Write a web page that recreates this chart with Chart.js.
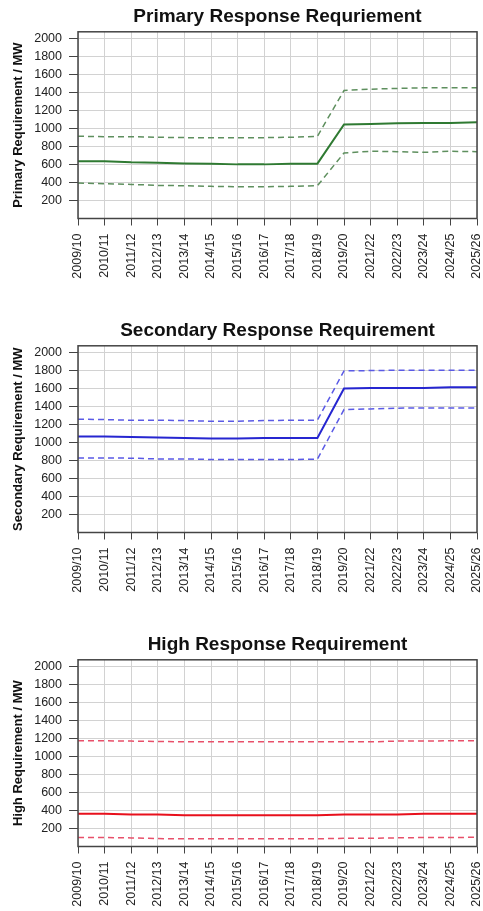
<!DOCTYPE html>
<html lang="en">
  <head>
    <meta charset="UTF-8" />
    <title>Response Requirements</title>
    <style>
      body { margin: 0; background: #fff; }
      .panel { position: absolute; left: 0; width: 483px; height: 283px; }
    </style>
  </head>

  <body>
    <div class="panel" style="top: 0px"><canvas id="primario"></canvas></div>
    <div class="panel" style="top: 314px"><canvas id="secundario"></canvas></div>
    <div class="panel" style="top: 628px"><canvas id="alto"></canvas></div>
    <script src="https://cdn.jsdelivr.net/npm/chart.js"></script>
    <script>
      const years = ["2009/10", "2010/11", "2011/12", "2012/13", "2013/14", "2014/15", "2015/16", "2016/17",
        "2017/18", "2018/19", "2019/20", "2021/22", "2022/23", "2023/24", "2024/25", "2025/26"];
      const yTicks = [200, 400, 600, 800, 1000, 1200, 1400, 1600, 1800, 2000];

      const primaryMid = [637, 637, 626, 622, 614, 611, 603, 603, 611, 611, 1047, 1054, 1061, 1065, 1065, 1073];
      const primaryUpper = [916, 912, 912, 905, 901, 901, 901, 901, 905, 916, 1426, 1441, 1449, 1456, 1456, 1456];
      const primaryLower = [395, 387, 380, 369, 365, 358, 354, 354, 358, 365, 730, 749, 745, 737, 749, 745];

      const secondaryMid = [1069, 1069, 1065, 1058, 1054, 1047, 1047, 1054, 1054, 1054, 1604, 1611, 1611, 1611, 1618, 1618];
      const secondaryUpper = [1262, 1258, 1251, 1251, 1247, 1240, 1240, 1247, 1251, 1251, 1800, 1804, 1808, 1808, 1808, 1808];
      const secondaryLower = [831, 831, 828, 820, 820, 813, 813, 813, 813, 817, 1370, 1377, 1385, 1388, 1388, 1388];

      const highMid = [364, 364, 356, 356, 349, 349, 349, 349, 349, 349, 356, 356, 356, 364, 364, 364];
      const highUpper = [1178, 1178, 1174, 1170, 1166, 1166, 1166, 1166, 1166, 1166, 1166, 1166, 1174, 1174, 1178, 1178];
      const highLower = [100, 100, 96, 88, 85, 85, 85, 85, 85, 85, 92, 92, 96, 100, 100, 103];

      const fuente = "'Liberation Sans', Arial, sans-serif";

      // marco completo alrededor del area de trazado
      const marco = {
        id: "marco",
        afterDatasetsDraw(chart) {
          const { ctx, chartArea: a } = chart;
          ctx.save();
          ctx.strokeStyle = "#444";
          ctx.lineWidth = 1.5;
          ctx.strokeRect(a.left, a.top, a.right - a.left, a.bottom - a.top);
          ctx.restore();
        },
      };

      function grafico(id, titulo, tituloY, medio, arriba, abajo, solido, guiones) {
        const linea = (datos, color, ancho, dash) => ({
          data: datos,
          borderColor: color,
          borderWidth: ancho,
          borderDash: dash,
          pointRadius: 0,
          tension: 0,
          fill: false,
        });
        return new Chart(document.getElementById(id), {
          type: "line",
          data: {
            labels: years,
            datasets: [
              linea(arriba, guiones, 1.5, [6, 4]),
              linea(abajo, guiones, 1.5, [6, 4]),
              linea(medio, solido, 2, []),
            ],
          },
          plugins: [marco],
          options: {
            responsive: true,
            maintainAspectRatio: false,
            animation: false,
            layout: { padding: { left: 11, right: 6, top: 0, bottom: 0 } },
            plugins: {
              legend: { display: false },
              tooltip: { enabled: false },
              title: {
                display: true,
                text: titulo,
                fullSize: false,
                color: "#111",
                font: { family: fuente, size: 19, weight: "bold", lineHeight: 1.2 },
                padding: { top: 5, bottom: 4 },
              },
            },
            scales: {
              x: {
                grid: { color: "#d2d2d2", tickColor: "#444", tickLength: 7, lineWidth: 1 },
                border: { display: false },
                ticks: {
                  autoSkip: false,
                  minRotation: 90,
                  maxRotation: 90,
                  padding: 8,
                  color: "#222",
                  font: { family: fuente, size: 12.5 },
                },
                afterFit(scale) {
                  scale.height = 64.5;
                  scale.paddingLeft = 0;
                  scale.paddingRight = 0;
                },
              },
              y: {
                min: 0,
                max: 2080,
                grid: { color: "#d2d2d2", tickColor: "#444", tickLength: 9, lineWidth: 1 },
                border: { display: false },
                ticks: {
                  padding: 7,
                  color: "#222",
                  font: { family: fuente, size: 12.5 },
                  callback: (v) => String(v),
                },
                afterBuildTicks(scale) {
                  scale.ticks = yTicks.map((v) => ({ value: v }));
                },
                title: {
                  display: true,
                  text: tituloY,
                  color: "#111",
                  font: { family: fuente, size: 13, weight: "bold", lineHeight: 1.2 },
                  padding: { top: 0, bottom: 0 },
                },
                afterFit(scale) {
                  scale.width = 67;
                },
              },
            },
          },
        });
      }

      grafico("primario", "Primary Response Requriement", "Primary Requirement / MW",
        primaryMid, primaryUpper, primaryLower, "#2f7a32", "#5e8f5e");
      grafico("secundario", "Secondary Response Requirement", "Secondary Requirement / MW",
        secondaryMid, secondaryUpper, secondaryLower, "#2626d0", "#5a5ae6");
      grafico("alto", "High Response Requirement", "High Requirement / MW",
        highMid, highUpper, highLower, "#e8101c", "#e8506a");
    </script>
  </body>
</html>
